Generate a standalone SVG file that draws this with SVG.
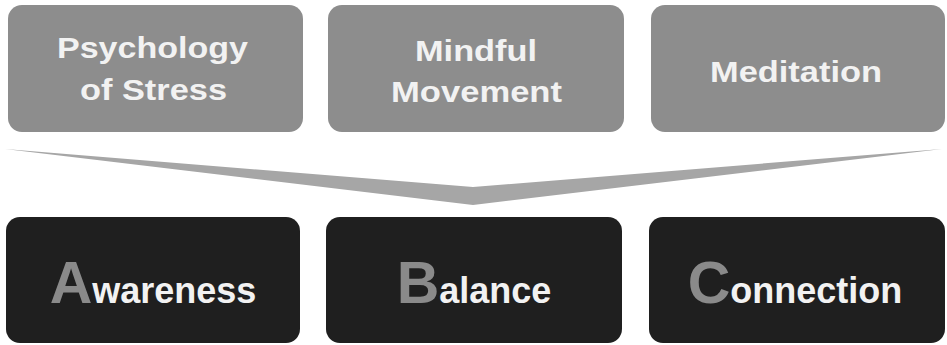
<svg xmlns="http://www.w3.org/2000/svg" width="947" height="345" viewBox="0 0 947 345">
<style>
.top{fill:#8d8d8d}
.bot{fill:#1f1f1f}
.tt{font-family:"Liberation Sans",Arial,sans-serif;font-weight:bold;font-size:29px;fill:#f2f2f2}
.bt{font-family:"Liberation Sans",Arial,sans-serif;font-weight:bold;fill:#f2f2f2;text-anchor:middle}
.big{font-size:59px;fill:#8a8a8a}
.small{font-size:36px}
</style>
<rect width="947" height="345" fill="#ffffff"/>
<g id="connectors">
<polygon points="5,149 473,187 942,149 473,205" fill="#a6a6a6"/>
</g>
<g id="psychology">
<rect class="top" x="8" y="5" width="295" height="127" rx="14"/>
<text class="tt" x="57" y="58" textLength="191" lengthAdjust="spacingAndGlyphs">Psychology</text>
<text class="tt" x="80" y="100" textLength="147" lengthAdjust="spacingAndGlyphs">of Stress</text>
</g>
<g id="mindful">
<rect class="top" x="328" y="5" width="296" height="127" rx="14"/>
<text class="tt" x="415" y="61" textLength="122" lengthAdjust="spacingAndGlyphs">Mindful</text>
<text class="tt" x="391" y="102" textLength="171" lengthAdjust="spacingAndGlyphs">Movement</text>
</g>
<g id="meditation">
<rect class="top" x="651" y="5" width="294" height="127" rx="14"/>
<text class="tt" x="710" y="82" textLength="172" lengthAdjust="spacingAndGlyphs">Meditation</text>
</g>
<g id="awareness">
<rect class="bot" x="6" y="217" width="294" height="126" rx="14"/>
<text class="bt" x="153" y="303"><tspan class="big">A</tspan><tspan class="small">wareness</tspan></text>
</g>
<g id="balance">
<rect class="bot" x="326" y="217" width="296" height="126" rx="14"/>
<text class="bt" x="474" y="303"><tspan class="big">B</tspan><tspan class="small">alance</tspan></text>
</g>
<g id="connection">
<rect class="bot" x="649" y="217" width="296" height="126" rx="14"/>
<text class="bt" x="795" y="303"><tspan class="big">C</tspan><tspan class="small">onnection</tspan></text>
</g>
</svg>
